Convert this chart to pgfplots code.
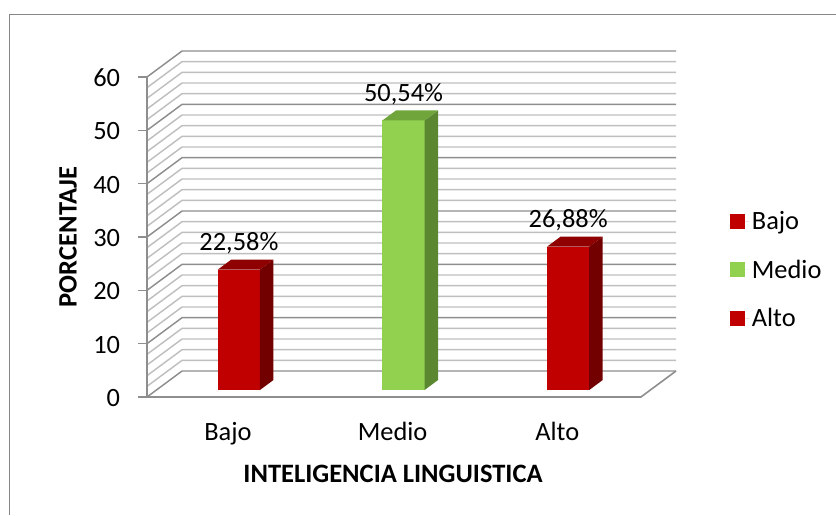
\documentclass[border=0pt]{standalone}
\usepackage{fontspec}
\setmainfont{Carlito}
\usepackage{pgfplots}
\pgfplotsset{compat=1.18}
\definecolor{redf}{HTML}{C00000}
\definecolor{reds}{HTML}{730000}
\definecolor{redt}{HTML}{8F0000}
\definecolor{grnf}{HTML}{92D050}
\definecolor{grns}{HTML}{5B8731}
\definecolor{grnt}{HTML}{6FA53B}
\definecolor{gmin}{HTML}{BFBFBF}
\definecolor{gmaj}{HTML}{8E8E8E}
\definecolor{frm}{HTML}{868686}
\newcommand{\lab}{\fontsize{19.8}{22}\selectfont}
\newcommand{\gridl}[2]{%
  \pgfmathsetmacro\yb{#1+4.875}%
  \edef\temp{\noexpand\addplot[forget plot,#2,line width=1.1pt] coordinates {(-0.5,#1) (-0.287,\yb) (2.713,\yb)};}\temp}
\newcommand{\barside}[5]{%
  \pgfmathsetmacro\xl{#1-0.128}\pgfmathsetmacro\xr{#1+0.128}%
  \pgfmathsetmacro\xrb{\xr+0.082}\pgfmathsetmacro\xlb{\xl+0.082}%
  \pgfmathsetmacro\yt{#2+1.31}\pgfmathsetmacro\ytb{\yt+1.875}\pgfmathsetmacro\ybb{1.31+1.875}%
  \edef\temp{\noexpand\addplot[forget plot,fill=#3,draw=none] coordinates {(\xr,1.31) (\xrb,\ybb) (\xrb,\ytb) (\xr,\yt)} --cycle;
  \noexpand\addplot[forget plot,fill=#4,draw=none] coordinates {(\xl,\yt) (\xlb,\ytb) (\xrb,\ytb) (\xr,\yt)} --cycle;
  \noexpand\node[font=\noexpand\lab,anchor=center] at (axis cs:#1,#2+6.2) {#5};}\temp}
\newcommand{\barfront}[3]{%
  \pgfmathsetmacro\xl{#1-0.128}\pgfmathsetmacro\xr{#1+0.128}\pgfmathsetmacro\yt{#2+1.31}%
  \edef\temp{\noexpand\addplot[fill=#3,draw=none] coordinates {(\xl,1.31) (\xr,1.31) (\xr,\yt) (\xl,\yt)} --cycle;}\temp}
\begin{document}
\begin{tikzpicture}[x=0.75pt,y=0.75pt]
\path[use as bounding box] (0,0) rectangle (836,515);
\draw[frm,line width=1.1pt] (836,500.5) -- (9.5,500.5) -- (9.5,0);
\begin{axis}[
  at={(110.25pt,88.5pt)},anchor=south west,
  scale only axis,width=396.75pt,height=259.5pt,
  xmin=-0.5,xmax=2.713,ymin=0,ymax=64.875,
  clip=false,
  axis line style={draw=none},
  xtick={0,1,2},xticklabels={Bajo,Medio,Alto},
  ytick={0,10,20,30,40,50,60},
  ytick pos=left,xtick pos=bottom,
  tick align=outside,
  major tick length=6.5pt,
  xtick style={draw=none},
  ytick style={gmaj,line width=1.1pt},
  tick label style={font=\lab},
  /pgf/number format/assume math mode=true,
  yticklabel style={xshift=-13.5pt,yshift=-0.7pt,inner sep=0pt},
  xticklabel style={xshift=-1pt,yshift=-9.5pt,text height=13pt,text depth=3pt},
  legend style={draw=none,fill=none,at={(1.102,0.5455)},anchor=north west,font=\lab,
    row sep=17.3pt,inner sep=0pt},
  legend cell align=left,
  legend image code/.code={\fill[#1] (0pt,-5.6pt) rectangle (11.25pt,5.6pt);\path (0pt,0pt) -- (14.25pt,0pt);},
]
\pgfplotsinvokeforeach{2,4,6,8,12,14,16,18,22,24,26,28,32,34,36,38,42,44,46,48,52,54,56,58}{\gridl{#1}{gmin}}
\pgfplotsinvokeforeach{0,10,20,30,40,50,60}{\gridl{#1}{gmaj}}
\addplot[forget plot,gmaj,line width=1.2pt] coordinates {(-0.5,60) (-0.5,0) (2.5,0) (2.713,4.875)};
\barfront{0.058}{22.58}{redf}
\barfront{1.058}{50.54}{grnf}
\barfront{2.058}{26.88}{redf}
\barside{0.058}{22.58}{reds}{redt}{22,58\%}
\barside{1.058}{50.54}{grns}{grnt}{50,54\%}
\barside{2.058}{26.88}{reds}{redt}{26,88\%}
\legend{Bajo,Medio,Alto}
\end{axis}
\node[font=\fontsize{19.9}{22}\selectfont\bfseries,rotate=90] at (68,278) {PORCENTAJE};
\node[font=\fontsize{19.9}{22}\selectfont\bfseries] at (393,41) {INTELIGENCIA LINGUISTICA};
\end{tikzpicture}
\end{document}
